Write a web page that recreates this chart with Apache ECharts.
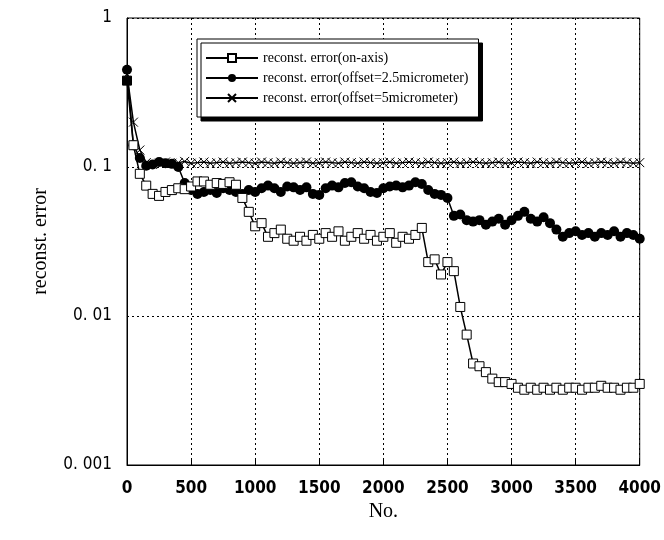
<!DOCTYPE html>
<html style="height: 100%">
<head>
<meta charset="utf-8">
<script src="https://cdn.jsdelivr.net/npm/echarts@6/dist/echarts.min.js"></script>
</head>
<body style="height: 100%; margin: 0; background: #fff">
<div id="container" style="width: 664px; height: 540px"></div>
<script type="text/javascript">
// sample number, every 50
var xs = [];
for (var i = 0; i <= 4000; i += 50) xs.push(i);

var onAxis = [
  0.38, 0.14, 0.09, 0.075, 0.066, 0.064, 0.068, 0.070, 0.072, 0.071,
  0.074, 0.080, 0.080, 0.076, 0.078, 0.077, 0.079, 0.076, 0.062, 0.050,
  0.040, 0.042, 0.034, 0.036, 0.038, 0.033, 0.032, 0.034, 0.032, 0.035,
  0.033, 0.036, 0.034, 0.037, 0.032, 0.034, 0.036, 0.033, 0.035, 0.032,
  0.034, 0.036, 0.031, 0.034, 0.033, 0.035, 0.039, 0.023, 0.024, 0.019,
  0.023, 0.020, 0.0115, 0.0075, 0.0048, 0.0046, 0.0042, 0.0038, 0.0036, 0.0036,
  0.0035, 0.0033, 0.0032, 0.0033, 0.0032, 0.0033, 0.0032, 0.0033, 0.0032, 0.0033,
  0.0033, 0.0032, 0.0033, 0.0033, 0.0034, 0.0033, 0.0033, 0.0032, 0.0033, 0.0033,
  0.0035
];
var offset25 = [
  0.45, 0.14, 0.115, 0.102, 0.104, 0.108, 0.106, 0.105, 0.100, 0.078,
  0.070, 0.066, 0.068, 0.070, 0.067, 0.072, 0.070, 0.068, 0.066, 0.070,
  0.068, 0.072, 0.075, 0.072, 0.068, 0.074, 0.073, 0.070, 0.073, 0.066,
  0.065, 0.072, 0.075, 0.073, 0.078, 0.079, 0.074, 0.072, 0.068, 0.067,
  0.072, 0.074, 0.075, 0.073, 0.075, 0.079, 0.077, 0.070, 0.066, 0.065,
  0.062, 0.047, 0.048, 0.044, 0.043, 0.044, 0.041, 0.043, 0.045, 0.041,
  0.044, 0.047, 0.050, 0.045, 0.043, 0.046, 0.042, 0.038, 0.034, 0.036,
  0.037, 0.035, 0.036, 0.034, 0.036, 0.035, 0.037, 0.034, 0.036, 0.035,
  0.033
];
var offset5 = [
  0.42, 0.20, 0.13, 0.107, 0.104, 0.106, 0.108, 0.106, 0.107, 0.109,
  0.106, 0.107, 0.108, 0.106, 0.107, 0.108, 0.106, 0.107, 0.108, 0.107,
  0.106, 0.108, 0.107, 0.106, 0.108, 0.107, 0.106, 0.107, 0.108, 0.106,
  0.107, 0.108, 0.107, 0.106, 0.108, 0.107, 0.106, 0.108, 0.107, 0.106,
  0.107, 0.108, 0.106, 0.107, 0.108, 0.107, 0.106, 0.108, 0.107, 0.106,
  0.107, 0.108, 0.106, 0.107, 0.108, 0.107, 0.106, 0.107, 0.108, 0.106,
  0.107, 0.108, 0.107, 0.106, 0.108, 0.107, 0.106, 0.108, 0.107, 0.106,
  0.107, 0.108, 0.106, 0.107, 0.108, 0.107, 0.106, 0.108, 0.107, 0.106,
  0.107
];
var names = [
  'reconst. error(on-axis)',
  'reconst. error(offset=2.5micrometer)',
  'reconst. error(offset=5micrometer)'
];
var yLabels = {1: '1', 0.1: '0. 1', 0.01: '0. 01', 0.001: '0. 001'};

function pairs(ys) {
  return xs.map(function (x, i) { return [x, ys[i]]; });
}

var serif = '"Liberation Serif", "DejaVu Serif", serif';
var narrow = '"Liberation Sans Narrow", "DejaVu Sans Condensed", sans-serif';
var myChart = echarts.init(document.getElementById('container'));

// first on-axis square is drawn filled in the original
var onAxisData = pairs(onAxis);
onAxisData[0] = { value: onAxisData[0], itemStyle: { color: '#000' } };

var option = {
  backgroundColor: '#fff',
  animation: false,
  grid: {
    left: 127, right: 21, top: 18, bottom: 75,
    show: true, borderColor: '#000', borderWidth: 1
  },
  legend: {
    orient: 'vertical',
    left: 197, top: 39,
    padding: [12, 10, 12, 8],
    itemGap: 6,
    itemWidth: 52,
    itemHeight: 10,
    backgroundColor: '#fff',
    borderColor: '#000',
    borderWidth: 1,
    shadowColor: '#000',
    shadowBlur: 0,
    shadowOffsetX: 4,
    shadowOffsetY: 4,
    textStyle: { fontFamily: serif, fontSize: 14, color: '#000' },
    data: names
  },
  xAxis: {
    type: 'value',
    min: 0, max: 4000, interval: 500,
    name: 'No.',
    nameLocation: 'middle',
    nameGap: 35,
    nameTextStyle: { fontFamily: serif, fontSize: 20, color: '#000' },
    axisLine: { lineStyle: { color: '#000' } },
    axisTick: { inside: true, length: 5, lineStyle: { color: '#000' } },
    axisLabel: {
      fontFamily: narrow, fontSize: 17, fontWeight: 'bold', color: '#000', margin: 15,
      formatter: function (v) { return String(v); }
    },
    splitLine: { lineStyle: { color: '#000', type: [2, 3], width: 1 } }
  },
  yAxis: {
    type: 'log',
    logBase: 10,
    min: 0.001, max: 1,
    name: 'reconst. error',
    nameLocation: 'middle',
    nameGap: 76,
    nameRotate: 90,
    nameTextStyle: { fontFamily: serif, fontSize: 20, color: '#000' },
    axisLine: { lineStyle: { color: '#000' } },
    axisTick: { show: false },
    axisLabel: {
      fontFamily: narrow, fontSize: 17, color: '#000', margin: 15,
      formatter: function (v) { return yLabels[v] || v; }
    },
    splitLine: { lineStyle: { color: '#000', type: [2, 3], width: 1 } }
  },
  series: [
    {
      name: names[1],
      type: 'line',
      data: pairs(offset25),
      symbol: 'circle',
      symbolSize: 10,
      lineStyle: { color: '#000', width: 1.5 },
      itemStyle: { color: '#000' }
    },
    {
      name: names[2],
      type: 'line',
      data: pairs(offset5),
      symbol: 'path://M0,0L10,10M10,0L0,10',
      symbolSize: 9,
      lineStyle: { color: '#000', width: 1.5 },
      itemStyle: { color: 'none', borderColor: '#000', borderWidth: 1 }
    },
    {
      name: names[0],
      type: 'line',
      data: onAxisData,
      symbol: 'rect',
      symbolSize: 9,
      lineStyle: { color: '#000', width: 1.5 },
      itemStyle: { color: '#fff', borderColor: '#000', borderWidth: 1 }
    }
  ]
};

myChart.setOption(option);
</script>
</body>
</html>
